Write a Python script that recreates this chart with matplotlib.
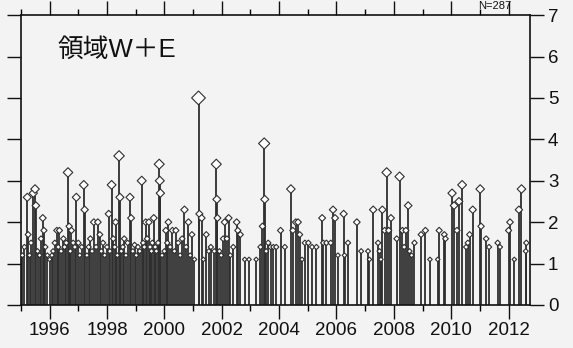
import matplotlib
matplotlib.use("Agg")
import matplotlib.pyplot as plt
import numpy as np

# event times (decimal year) and magnitudes
years = [
    1995.05, 1995.12, 1995.22, 1995.25, 1995.30, 1995.35, 1995.43, 1995.49, 1995.52, 1995.58,
    1995.65, 1995.70, 1995.76, 1995.80, 1995.85, 1995.92, 1996.00, 1996.08, 1996.12, 1996.18,
    1996.25, 1996.30, 1996.34, 1996.40, 1996.48, 1996.52, 1996.58, 1996.64, 1996.68, 1996.72,
    1996.76, 1996.82, 1996.88, 1996.93, 1997.00, 1997.05, 1997.12, 1997.19, 1997.22, 1997.30,
    1997.36, 1997.42, 1997.48, 1997.54, 1997.62, 1997.68, 1997.75, 1997.80, 1997.86, 1997.92,
    1998.00, 1998.06, 1998.10, 1998.16, 1998.22, 1998.27, 1998.30, 1998.36, 1998.42, 1998.45,
    1998.50, 1998.55, 1998.60, 1998.66, 1998.72, 1998.80, 1998.84, 1998.90, 1998.96, 1999.02,
    1999.08, 1999.14, 1999.21, 1999.26, 1999.30, 1999.35, 1999.40, 1999.46, 1999.50, 1999.55,
    1999.58, 1999.63, 1999.68, 1999.72, 1999.78, 1999.82, 1999.84, 1999.86, 1999.92, 2000.00,
    2000.05, 2000.10, 2000.14, 2000.20, 2000.28, 2000.35, 2000.40, 2000.48, 2000.55, 2000.62,
    2000.70, 2000.76, 2000.84, 2000.90, 2000.96, 2001.05, 2001.19, 2001.22, 2001.30, 2001.36,
    2001.46, 2001.55, 2001.62, 2001.74, 2001.81, 2001.83, 2001.85, 2001.92, 2001.98, 2002.05,
    2002.10, 2002.18, 2002.24, 2002.30, 2002.40, 2002.52, 2002.56, 2002.65, 2002.80, 2002.95,
    2003.20, 2003.35, 2003.42, 2003.48, 2003.50, 2003.55, 2003.62, 2003.70, 2003.80, 2003.90,
    2004.05, 2004.20, 2004.41, 2004.48, 2004.58, 2004.66, 2004.72, 2004.80, 2004.90, 2005.02,
    2005.15, 2005.30, 2005.50, 2005.54, 2005.65, 2005.80, 2005.88, 2005.95, 2006.05, 2006.25,
    2006.28, 2006.40, 2006.71, 2006.86, 2007.10, 2007.15, 2007.28, 2007.45, 2007.50, 2007.55,
    2007.60, 2007.68, 2007.75, 2007.82, 2007.90, 2008.10, 2008.20, 2008.30, 2008.36, 2008.42,
    2008.50, 2008.55, 2008.62, 2008.72, 2008.95, 2009.10, 2009.26, 2009.53, 2009.58, 2009.76,
    2009.80, 2010.03, 2010.10, 2010.20, 2010.27, 2010.38, 2010.52, 2010.58, 2010.64, 2010.75,
    2011.01, 2011.04, 2011.22, 2011.32, 2011.62, 2011.70, 2012.00, 2012.05, 2012.20, 2012.36,
    2012.45, 2012.60, 2012.62,
]
mags = [
    1.2, 1.4, 2.6, 1.7, 1.2, 1.5, 2.7, 2.8, 2.4, 1.3,
    1.2, 1.6, 2.1, 1.8, 1.4, 1.2, 1.1, 1.2, 1.3, 1.5,
    1.8, 1.4, 1.8, 1.3, 1.6, 1.4, 1.5, 3.2, 1.9, 1.3,
    1.8, 1.5, 1.4, 2.6, 1.5, 1.2, 1.4, 2.9, 2.3, 1.2,
    1.4, 1.6, 1.3, 2.0, 1.4, 2.0, 1.7, 1.3, 1.5, 1.2,
    1.4, 2.2, 1.3, 2.9, 1.6, 1.4, 2.0, 1.2, 3.6, 2.6,
    1.3, 1.4, 1.6, 1.2, 1.5, 2.6, 2.1, 1.3, 1.45, 1.2,
    1.4, 1.3, 3.0, 1.5, 1.4, 2.0, 1.6, 2.0, 1.4, 1.3,
    1.5, 2.1, 1.4, 1.3, 1.5, 3.4, 3.0, 2.7, 1.2, 1.3,
    1.8, 1.5, 2.0, 1.4, 1.8, 1.3, 1.8, 1.5, 1.2, 1.6,
    2.3, 1.4, 2.0, 1.2, 1.7, 1.1, 5.0, 2.2, 2.1, 1.1,
    1.7, 1.3, 1.4, 1.3, 3.4, 2.55, 2.1, 1.3, 1.2, 1.6,
    2.0, 1.6, 2.1, 1.2, 1.4, 2.0, 1.8, 1.7, 1.1, 1.1,
    1.1, 1.4, 1.9, 3.9, 2.55, 1.3, 1.5, 1.4, 1.4, 1.4,
    1.8, 1.4, 2.8, 1.8, 2.0, 2.0, 1.7, 1.1, 1.5, 1.5,
    1.4, 1.4, 2.1, 1.5, 1.5, 1.5, 2.3, 2.1, 1.2, 2.2,
    1.2, 1.5, 2.0, 1.3, 1.3, 1.1, 2.3, 1.5, 1.3, 1.1,
    2.3, 1.8, 3.2, 1.8, 2.1, 1.6, 3.1, 1.8, 1.4, 1.8,
    2.4, 1.3, 1.2, 1.5, 1.7, 1.8, 1.1, 1.1, 1.8, 1.7,
    1.6, 2.7, 2.4, 1.8, 2.5, 2.9, 1.4, 1.5, 1.7, 2.3,
    2.8, 1.9, 1.6, 1.4, 1.5, 1.4, 1.8, 2.0, 1.1, 2.3,
    2.8, 1.3, 1.5,
]
year_ticks = list(range(1996, 2013, 2))
mag_ticks = list(range(0, 8))

bg = "#f3f3f3"
ink = "#2e2e2e"

fig = plt.figure(figsize=(5.73, 3.48), dpi=100, facecolor=bg)
ax = fig.add_axes([0.0366, 0.1236, 0.888, 0.833], facecolor=bg)

ax.vlines(years, 0, mags, colors=ink, lw=1.3)
# diamonds grow with magnitude
sizes = (np.array(mags) * 1.2 + 1.0) ** 2
ax.scatter(years, mags, s=sizes, marker="D", facecolors="white",
           edgecolors=ink, linewidths=0.8, zorder=3)

ax.set_xlim(1995.0, 2012.74)
ax.set_ylim(0, 7)

ax.set_xticks(year_ticks)
ax.set_xticklabels([str(y) for y in year_ticks])
ax.set_xticks(list(range(1995, 2013, 2)), minor=True)
ax.set_yticks(mag_ticks)

ax.tick_params(axis="x", which="major", direction="out", length=10, width=1,
               top=True, bottom=True, labelsize=13.5, pad=2, colors="#111")
ax.tick_params(axis="x", which="minor", direction="out", length=4, width=1,
               top=True, bottom=True)
ax.tick_params(axis="y", which="major", direction="out", length=10, width=1,
               left=True, right=True, labelleft=False, labelright=True,
               labelsize=13.5, pad=3, colors="#111")
for lab in ax.get_xticklabels() + ax.get_yticklabels():
    lab.set_fontfamily("Liberation Sans")
for s in ax.spines.values():
    s.set_linewidth(1.2)
    s.set_color("#111")

ax.text(0.071, 0.88, "領域W＋E", transform=ax.transAxes, fontsize=18.5,
        va="center", ha="left", color="#111",
        family=["Liberation Sans", "Noto Sans CJK JP"])

# count label at the top edge
fig.text(0.835, 0.997, "N=287", fontsize=8, ha="left", va="top",
         color="#111", family="Liberation Sans")

fig.savefig("out.png", dpi=100, facecolor=bg)
